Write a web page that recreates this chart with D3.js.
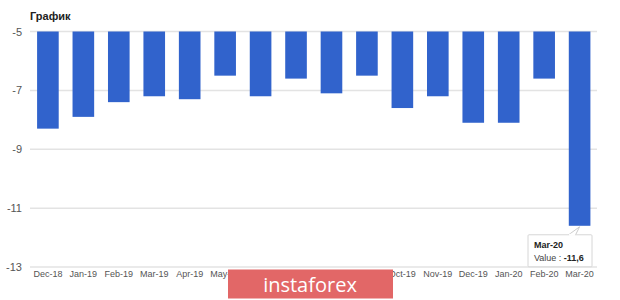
<!DOCTYPE html>
<html><head><meta charset="utf-8">
<script src="https://cdn.jsdelivr.net/npm/d3@7"></script>
<style>body{margin:0;background:#fff;}svg{display:block;font-family:"Liberation Sans",Arial,sans-serif;}</style>
</head><body>
<svg id="c" width="620" height="300"></svg>
<script>
const categories = ["Dec-18","Jan-19","Feb-19","Mar-19","Apr-19","May-19","Jun-19","Jul-19","Aug-19","Sep-19","Oct-19","Nov-19","Dec-19","Jan-20","Feb-20","Mar-20"];
const values = [-8.3,-7.9,-7.4,-7.2,-7.3,-6.5,-7.2,-6.6,-7.1,-6.5,-7.6,-7.2,-8.1,-8.1,-6.6,-11.6];
const yTicks = [-5,-7,-9,-11,-13];
const title = "График";

const svg = d3.select("#c");
const x = d3.scaleBand().domain(categories).range([30, 597.5]).paddingInner(0.39).paddingOuter(0.2);
const y = d3.scaleLinear().domain([-13, -5]).range([267, 31.5]);

svg.append("text").attr("x", 30).attr("y", 20).attr("font-size", 11).attr("font-weight", "bold").attr("fill", "#222").text(title);

// gridlines
svg.append("g").selectAll("line").data(yTicks).join("line")
  .attr("x1", 30).attr("x2", 597).attr("y1", d => y(d)).attr("y2", d => y(d))
  .attr("stroke", "#e3e3e3").attr("stroke-width", 1.5);

// y axis labels
const yAxis = d3.axisLeft(y).tickValues(yTicks).tickSize(0).tickPadding(0).tickFormat(d => String(d));
const gy = svg.append("g").attr("transform", "translate(22,0)").call(yAxis);
gy.select(".domain").remove();
gy.selectAll("text").attr("font-size", 11).attr("fill", "#555").attr("font-family", "\"Liberation Sans\",Arial,sans-serif");

// bars
svg.append("g").selectAll("rect").data(values).join("rect")
  .attr("x", (d, i) => x(categories[i])).attr("width", x.bandwidth())
  .attr("y", y(-5)).attr("height", d => y(d) - y(-5))
  .attr("fill", "#3163cc");

// x axis labels
const xAxis = d3.axisBottom(x).tickSize(0).tickPadding(0);
const gx = svg.append("g").attr("transform", "translate(0,271)").call(xAxis);
gx.select(".domain").remove();
gx.selectAll("text").attr("font-size", 9).attr("fill", "#555").attr("font-family", "\"Liberation Sans\",Arial,sans-serif");

// watermark
const wm = svg.append("g");
wm.append("rect").attr("x", 228).attr("y", 269.5).attr("width", 165).attr("height", 29).attr("fill", "#e26767");
wm.append("text").attr("x", 310).attr("y", 292).attr("text-anchor", "middle").attr("font-size", 20).attr("fill", "#fff")
  .attr("font-family", "\"Open Sans\",\"Liberation Sans\",sans-serif").text("instaforex");

// tooltip for last bar
const li = categories.length - 1;
const bx = x(categories[li]) + x.bandwidth() / 2;
const by = y(values[li]);
const tt = svg.append("g");
tt.append("path").attr("d", `M${bx - 11},${by + 9} L${bx},${by + 1} L${bx - 4},${by + 9}`).attr("fill", "#fff").attr("stroke", "#ccc");
tt.append("rect").attr("x", 528).attr("y", by + 9).attr("width", 64).attr("height", 32).attr("fill", "#fff").attr("stroke", "#d6d6d6").attr("rx", 1);
tt.append("rect").attr("x", bx - 10.5).attr("y", by + 8).attr("width", 6).attr("height", 2).attr("fill", "#fff");
tt.append("text").attr("x", 534).attr("y", by + 22).attr("font-size", 9).attr("font-weight", "bold").attr("fill", "#222").text(categories[li]);
const t2 = tt.append("text").attr("x", 534).attr("y", by + 35).attr("font-size", 9).attr("fill", "#444");
t2.append("tspan").text("Value : ");
t2.append("tspan").attr("font-weight", "bold").attr("fill", "#222").text(values[li].toFixed(1).replace(".", ","));
</script>
</body></html>
